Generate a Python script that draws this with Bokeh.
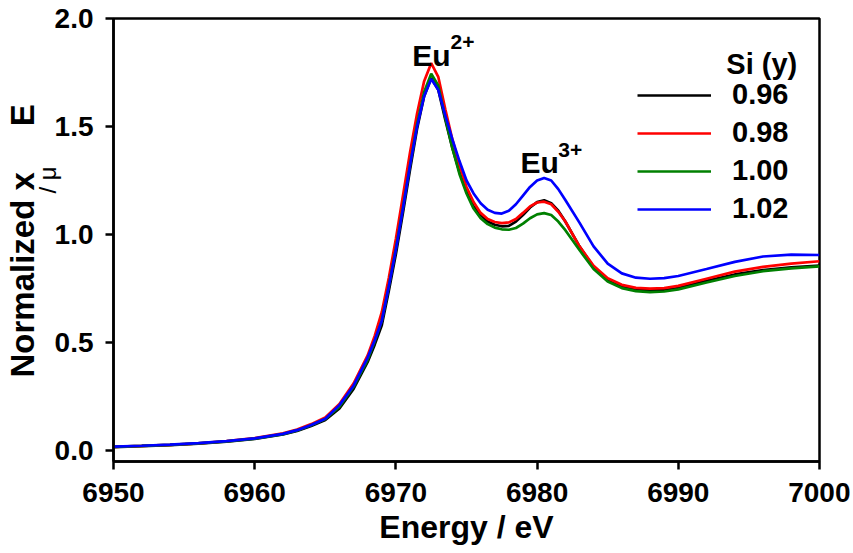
import math
from bokeh.plotting import figure
from bokeh.models import Range1d, Label, Legend, LegendItem, FixedTicker, Title
from bokeh.embed import file_html
from bokeh.resources import INLINE

# Energy grid (eV)
energy = [6950, 6952, 6954, 6956, 6958, 6960, 6962, 6963, 6964, 6965, 6966, 6967,
          6968, 6968.5, 6969, 6969.5, 6970, 6970.5, 6971, 6971.5, 6972, 6972.5,
          6973, 6973.5, 6974, 6974.5, 6975, 6975.5, 6976, 6976.5, 6977, 6977.5,
          6978, 6978.5, 6979, 6979.5, 6980, 6980.5, 6981, 6981.5, 6982, 6983,
          6984, 6985, 6986, 6987, 6988, 6989, 6990, 6992, 6994, 6996, 6998, 7000]

si_096 = [0.016, 0.020, 0.025, 0.032, 0.041, 0.054, 0.074, 0.090, 0.113, 0.141, 0.195, 0.285,
          0.41, 0.49, 0.58, 0.74, 0.91, 1.10, 1.30, 1.49, 1.64, 1.725,
          1.67, 1.53, 1.40, 1.29, 1.20, 1.13, 1.09, 1.06, 1.045, 1.038,
          1.04, 1.06, 1.09, 1.125, 1.15, 1.158, 1.145, 1.11, 1.06, 0.945,
          0.85, 0.79, 0.76, 0.745, 0.741, 0.743, 0.752, 0.785, 0.815, 0.835, 0.848, 0.856]

si_098 = [0.017, 0.021, 0.026, 0.033, 0.043, 0.057, 0.079, 0.097, 0.122, 0.153, 0.215, 0.31,
          0.44, 0.53, 0.64, 0.80, 0.98, 1.18, 1.38, 1.56, 1.71, 1.793,
          1.73, 1.58, 1.44, 1.32, 1.22, 1.15, 1.10, 1.072, 1.058, 1.053,
          1.056, 1.072, 1.10, 1.13, 1.148, 1.152, 1.14, 1.105, 1.06, 0.945,
          0.855, 0.797, 0.767, 0.753, 0.749, 0.752, 0.762, 0.795, 0.828, 0.85, 0.865, 0.876]

si_100 = [0.017, 0.021, 0.026, 0.033, 0.042, 0.055, 0.076, 0.093, 0.117, 0.146, 0.203, 0.295,
          0.42, 0.505, 0.60, 0.76, 0.935, 1.125, 1.32, 1.51, 1.66, 1.744,
          1.69, 1.54, 1.40, 1.28, 1.19, 1.12, 1.075, 1.048, 1.032, 1.024,
          1.022, 1.03, 1.05, 1.075, 1.093, 1.099, 1.09, 1.06, 1.02, 0.928,
          0.84, 0.782, 0.752, 0.738, 0.733, 0.736, 0.746, 0.778, 0.808, 0.83, 0.843, 0.852]

si_102 = [0.018, 0.022, 0.027, 0.034, 0.043, 0.056, 0.077, 0.094, 0.118, 0.147, 0.21, 0.30,
          0.43, 0.51, 0.60, 0.76, 0.93, 1.12, 1.32, 1.50, 1.64, 1.72,
          1.67, 1.55, 1.44, 1.34, 1.25, 1.19, 1.145, 1.115, 1.10, 1.097,
          1.11, 1.14, 1.18, 1.22, 1.25, 1.262, 1.25, 1.21, 1.16, 1.055,
          0.945, 0.865, 0.82, 0.80, 0.795, 0.798, 0.808, 0.84, 0.873, 0.898, 0.907, 0.905]

series_labels = ["0.96", "0.98", "1.00", "1.02"]
series_colors = ["#000000", "#ff0000", "#008000", "#0000ff"]
x_ticks = [6950, 6960, 6970, 6980, 6990, 7000]
y_ticks = [0.0, 0.5, 1.0, 1.5, 2.0]

FONT = "Liberation Sans"
NBSP = "\u00a0"

p = figure(width=850, height=550, output_backend="svg", toolbar_location=None,
           x_range=Range1d(6950, 7000), y_range=Range1d(-0.051, 2.0),
           min_border_left=113, min_border_right=31, min_border_top=18, min_border_bottom=89)
p.background_fill_color = "white"
p.border_fill_color = "white"
p.grid.visible = False
p.outline_line_color = "black"
p.outline_line_width = 2.5

renderers = []
for ys, c in zip([si_096, si_098, si_100, si_102], series_colors):
    r = p.line(energy, ys, line_color=c, line_width=2.7)
    renderers.append(r)

for ax in (p.xaxis[0], p.yaxis[0]):
    ax.axis_line_width = 2.5
    ax.major_tick_line_width = 2.5
    ax.major_tick_out = 8
    ax.major_tick_in = 0
    ax.minor_tick_line_color = None
    ax.major_label_text_font = FONT
    ax.major_label_text_font_style = "bold"
    ax.major_label_text_color = "black"

p.xaxis.ticker = FixedTicker(ticks=x_ticks)
p.yaxis.ticker = FixedTicker(ticks=y_ticks)
p.xaxis.major_label_overrides = {t: str(t) for t in x_ticks}
p.yaxis.major_label_overrides = {t: f"{t:.1f}" for t in y_ticks}
p.xaxis.major_label_text_font_size = "28px"
p.yaxis.major_label_text_font_size = "28px"
p.xaxis.major_label_standoff = 13
p.yaxis.major_label_standoff = 12

p.xaxis.axis_label = "Energy / eV"
p.xaxis.axis_label_text_font = FONT
p.xaxis.axis_label_text_font_style = "bold"
p.xaxis.axis_label_text_font_size = "32px"
p.xaxis.axis_label_text_color = "black"
p.xaxis.axis_label_standoff = 4

# small "/ μ" piece of the y title, carried by the y axis label
p.yaxis.axis_label = NBSP * 18 + "/ μ"
p.yaxis.axis_label_text_font = FONT
p.yaxis.axis_label_text_font_style = "normal"
p.yaxis.axis_label_text_font_size = "24px"
p.yaxis.axis_label_text_color = "black"
p.yaxis.axis_label_standoff = -9

# main part of the y title as a left-side title
ytitle = Title(text="Normalized x" + NBSP * 5 + "E", align="left", offset=84, standoff=-20,
               text_font=FONT, text_font_style="bold", text_font_size="33px",
               text_color="black")
p.add_layout(ytitle, "left")

# peak annotations
for (ex, ey, sx, sy, main, sup) in [(6971.15, 1.829, 6973.87, 1.89, "Eu", "2+"),
                                      (6978.82, 1.335, 6981.5, 1.389, "Eu", "3+")]:
    p.add_layout(Label(x=ex, y=ey, text=main, text_font=FONT, text_font_style="bold",
                       text_color="black",
                       text_font_size="30px", text_align="left", text_baseline="alphabetic"))
    p.add_layout(Label(x=sx, y=sy, text=sup, text_font=FONT, text_font_style="bold",
                       text_color="black",
                       text_font_size="21px", text_align="left", text_baseline="alphabetic"))

# legend
items = [LegendItem(label=l, renderers=[r]) for l, r in zip(series_labels, renderers)]
legend = Legend(items=items, location=(524, 236))
legend.border_line_color = None
legend.background_fill_alpha = 0
legend.padding = 0
legend.margin = 0
legend.glyph_width = 74
legend.glyph_height = 30
legend.label_height = 30
legend.label_standoff = 21
legend.spacing = 5
legend.label_text_font = FONT
legend.label_text_font_style = "bold"
legend.label_text_font_size = "29px"
legend.label_text_color = "black"
p.add_layout(legend)

p.add_layout(Label(x=6993.4, y=(450 - 64) / 216, text="Si (y)", text_font=FONT, text_font_style="bold",
                   text_color="black",
                   text_font_size="29px", text_align="left", text_baseline="alphabetic"))

open("out.html", "w").write(file_html(p, INLINE))
